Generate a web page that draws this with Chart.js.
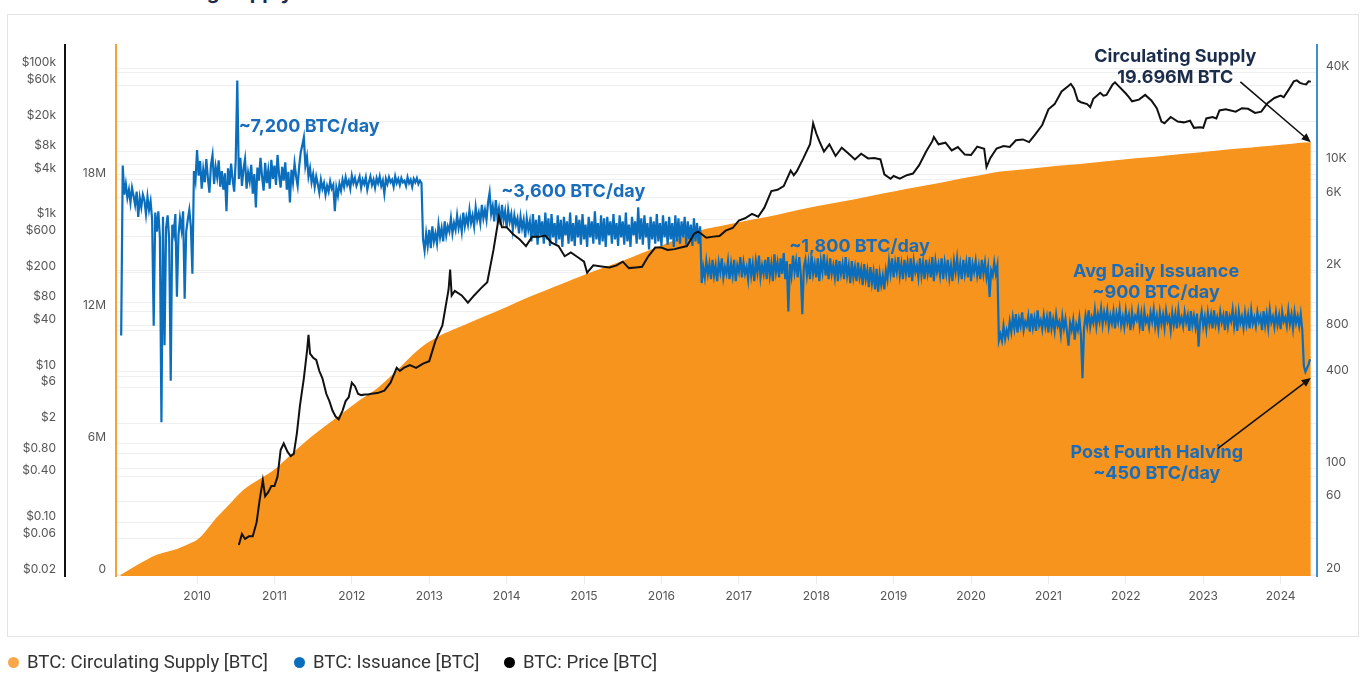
<!DOCTYPE html>
<html>
<head>
<meta charset="utf-8">
<script src="https://cdn.jsdelivr.net/npm/chart.js@4.4.1/dist/chart.umd.min.js"></script>
<style>
  body { margin: 0; background: #fff; width: 1364px; height: 682px; overflow: hidden; position: relative; }
  #frame { position: absolute; left: 7px; top: 14px; width: 1350px; height: 621px; border: 1px solid #e4e4e4; }
  #chart { position: absolute; left: 0; top: 0; }
  #title { position: absolute; left: 40px; top: -18px; font: 700 20px/20px Inter, sans-serif; color: #1c2b4b; white-space: nowrap; }
  .item { position: absolute; top: 651px; height: 22px; display: flex; align-items: center; font: 18.6px/22px Roboto, sans-serif; color: #333; white-space: nowrap; }
  .dot { width: 11px; height: 11px; border-radius: 50%; margin-right: 8px; }
</style>
</head>
<body>
<div id="title">Bitcoin Circulating Supply</div>
<div id="frame"></div>
<canvas id="chart" width="1364" height="682"></canvas>
<div class="item" style="left:8px"><span class="dot" style="background:#f8a84a"></span>BTC: Circulating Supply [BTC]</div>
<div class="item" style="left:294px"><span class="dot" style="background:#0a6ebd"></span>BTC: Issuance [BTC]</div>
<div class="item" style="left:504px"><span class="dot" style="background:#000"></span>BTC: Price [BTC]</div>
<script>
// ---- data (decimal years) ----
const yearTicks = [2010, 2011, 2012, 2013, 2014, 2015, 2016, 2017, 2018, 2019, 2020, 2021, 2022, 2023, 2024];

const priceTicks = [0.02, 0.06, 0.1, 0.4, 0.8, 2, 6, 10, 40, 80, 200, 600, 1000, 4000, 8000, 20000, 60000, 100000];
const priceTickLabels = ['$0.02', '$0.06', '$0.10', '$0.40', '$0.80', '$2', '$6', '$10', '$40', '$80', '$200', '$600', '$1k', '$4k', '$8k', '$20k', '$60k', '$100k'];

const supplyTicks = [0, 6e6, 12e6, 18e6];
const supplyTickLabels = ['0', '6M', '12M', '18M'];

const issuanceTicks = [20, 60, 100, 400, 800, 2000, 6000, 10000, 40000];
const issuanceTickLabels = ['20', '60', '100', '400', '800', '2K', '6K', '10K', '40K'];

// circulating supply, millions of BTC
const supplyYears = [2009.01, 2009.15, 2009.3, 2009.45, 2009.6, 2009.75, 2009.9, 2010.0, 2010.1, 2010.25,
  2010.4, 2010.59, 2010.8, 2011.0, 2011.25, 2011.46, 2011.7, 2011.89, 2012.1, 2012.33,
  2012.55, 2012.75, 2012.91, 2013.14, 2013.4, 2013.7, 2014.0, 2014.25, 2014.5, 2014.75,
  2015.0, 2015.25, 2015.5, 2015.75, 2016.0, 2016.25, 2016.52, 2016.75, 2017.0, 2017.25,
  2017.5, 2017.75, 2018.0, 2018.25, 2018.5, 2018.75, 2019.0, 2019.25, 2019.5, 2019.75,
  2020.0, 2020.2, 2020.36, 2020.7, 2021.0, 2021.25, 2021.5, 2021.75, 2022.0, 2022.25,
  2022.5, 2022.75, 2023.0, 2023.25, 2023.5, 2023.75, 2024.0, 2024.15, 2024.3, 2024.39];
const supplyValues = [0, 0.3, 0.6, 0.88, 1.05, 1.2, 1.42, 1.6, 1.95, 2.6,
  3.15, 3.85, 4.35, 4.8, 5.6, 6.25, 6.9, 7.4, 7.95, 8.5,
  9.2, 9.9, 10.4, 10.9, 11.3, 11.75, 12.2, 12.6, 12.95, 13.3,
  13.65, 13.98, 14.3, 14.65, 15.0, 15.35, 15.7, 15.87, 16.05, 16.22,
  16.4, 16.6, 16.78, 16.94, 17.1, 17.28, 17.45, 17.62, 17.78, 17.95,
  18.12, 18.25, 18.35, 18.47, 18.58, 18.66, 18.74, 18.83, 18.92, 19.0,
  19.08, 19.17, 19.25, 19.34, 19.42, 19.5, 19.58, 19.63, 19.68, 19.696];

// price, USD
const priceYears = [2010.54, 2010.58, 2010.62, 2010.67, 2010.72, 2010.77, 2010.81, 2010.85, 2010.88, 2010.92, 2010.96,
  2011.0, 2011.04, 2011.08, 2011.12, 2011.17, 2011.21, 2011.25, 2011.29, 2011.33, 2011.38, 2011.42, 2011.44, 2011.46,
  2011.5, 2011.54, 2011.58, 2011.62, 2011.67, 2011.71, 2011.75, 2011.79, 2011.83, 2011.88, 2011.92, 2011.96,
  2012.0, 2012.04, 2012.08, 2012.12, 2012.17, 2012.21, 2012.25, 2012.33, 2012.42, 2012.5, 2012.58, 2012.62, 2012.67,
  2012.75, 2012.83, 2012.92, 2013.0, 2013.08, 2013.17, 2013.25, 2013.27, 2013.29, 2013.33, 2013.42, 2013.5, 2013.58,
  2013.67, 2013.75, 2013.83, 2013.9, 2013.94, 2014.0, 2014.08, 2014.17, 2014.25, 2014.33, 2014.42, 2014.5, 2014.58,
  2014.67, 2014.75, 2014.83, 2014.92, 2015.0, 2015.04, 2015.12, 2015.25, 2015.33, 2015.42, 2015.5, 2015.58, 2015.67,
  2015.75, 2015.83, 2015.92, 2016.0, 2016.08, 2016.17, 2016.25, 2016.33, 2016.42, 2016.47, 2016.5, 2016.58, 2016.67,
  2016.75, 2016.83, 2016.92, 2017.0, 2017.08, 2017.17, 2017.25, 2017.33, 2017.42, 2017.5, 2017.58, 2017.67, 2017.71,
  2017.75, 2017.83, 2017.92, 2017.96, 2018.0, 2018.04, 2018.1, 2018.17, 2018.25, 2018.33, 2018.42, 2018.5, 2018.58,
  2018.67, 2018.75, 2018.83, 2018.88, 2018.96, 2019.0, 2019.08, 2019.17, 2019.25, 2019.33, 2019.42, 2019.5, 2019.52,
  2019.58, 2019.67, 2019.75, 2019.83, 2019.92, 2020.0, 2020.08, 2020.17, 2020.2, 2020.25, 2020.33, 2020.42, 2020.5,
  2020.58, 2020.67, 2020.75, 2020.83, 2020.92, 2021.0, 2021.08, 2021.17, 2021.25, 2021.29, 2021.33, 2021.38, 2021.42,
  2021.5, 2021.54, 2021.58, 2021.67, 2021.71, 2021.75, 2021.83, 2021.86, 2021.92, 2022.0, 2022.04, 2022.08, 2022.17,
  2022.25, 2022.33, 2022.4, 2022.46, 2022.5, 2022.58, 2022.67, 2022.75, 2022.83, 2022.88, 2022.96, 2023.0, 2023.04,
  2023.12, 2023.17, 2023.21, 2023.29, 2023.33, 2023.42, 2023.5, 2023.58, 2023.67, 2023.75, 2023.83, 2023.92, 2024.0,
  2024.04, 2024.1, 2024.17, 2024.21, 2024.25, 2024.29, 2024.33, 2024.36, 2024.39];
const priceValues = [0.05, 0.07, 0.06, 0.065, 0.065, 0.1, 0.2, 0.36, 0.22, 0.25, 0.3,
  0.3, 0.4, 0.9, 1.1, 0.85, 0.75, 0.8, 1.5, 3.5, 8, 18, 30, 17,
  15, 14, 10, 8, 5, 4, 3, 2.5, 2.3, 3, 4, 4.5,
  7, 6.3, 5, 4.8, 4.9, 4.9, 5, 5.1, 5.5, 7, 11, 10, 11,
  12, 11, 12.5, 13.5, 25, 40, 120, 220, 100, 115, 100, 80, 100,
  125, 150, 400, 1100, 800, 800, 650, 550, 450, 600, 600, 620, 500,
  450, 330, 370, 320, 280, 200, 250, 240, 235, 250, 280, 230, 235,
  240, 330, 430, 430, 400, 410, 430, 450, 650, 700, 670, 580, 600,
  610, 720, 780, 980, 1050, 1200, 1100, 1450, 2400, 2500, 2800, 4500, 3900,
  4400, 6400, 10000, 19000, 14000, 11000, 8000, 10000, 7000, 9000, 7500, 6300, 7500,
  6500, 6600, 6300, 4000, 3500, 3800, 3500, 3900, 4100, 5300, 8000, 11000, 12500,
  10000, 10500, 8300, 9200, 7300, 7200, 9300, 8700, 5000, 6600, 8800, 9500, 9200,
  11300, 11600, 10700, 13500, 18000, 29000, 34000, 50000, 58000, 63000, 55000, 38000, 36000,
  34000, 31000, 40000, 48000, 44000, 45000, 62000, 66000, 57000, 47000, 42000, 37000, 39000,
  45000, 38000, 30000, 20000, 19000, 23000, 20000, 19500, 20500, 16500, 16800, 16500, 22000,
  23000, 22000, 28000, 29000, 28500, 27000, 30000, 29500, 26000, 27000, 35000, 41000, 44000,
  42000, 52000, 68000, 70000, 65000, 63000, 62000, 68000, 67000];

// issuance, BTC per day, one reading every 0.02 years from 2009.02
const issuanceStart = 2009.02;
const issuanceStep = 0.02;
const issuanceValues = [
  745, 9800, 6300, 7400, 6000, 6800, 5600, 7000, 6200, 5400,
  6600, 4500, 6000, 5200, 6300, 5800, 4700, 6100, 5000, 5700,
  4300, 864, 4800, 3600, 4900, 3300, 200, 4500, 644, 3800,
  4600, 3200, 375, 4000, 3500, 4700, 1340, 3400, 4400, 3700,
  4900, 1300, 3600, 4300, 5000, 3900, 1900, 9000,
  7800, 12400, 8400, 10500, 6900, 9200, 7600, 10800, 8100, 6500,
  9900, 11500, 7400, 9600, 8200, 10600, 7100, 9000, 6800, 8700,
  4900, 9400, 7300, 10100, 7900, 6600, 10700, 35500, 8000, 11000,
  7200, 9300, 10800, 6900, 8800, 7700, 9900, 6400, 8600, 5200,
  9500, 7800, 11000, 8300, 6700, 10200, 7500, 9100, 6900, 10700,
  8000, 9800, 7300, 11500, 8500, 7000, 9600, 7800, 10300, 6800,
  8900, 5600, 9200, 7600, 10100, 8300, 7200, 9700, 12000, 13300,
  15000, 9800, 11200, 8300, 9400,
  7600, 8600, 7100, 8300, 7400, 6500, 7900, 6900, 7500, 6300,
  7200, 6600, 7700, 6900, 7300, 4900, 7000, 6200, 7400, 6700,
  7900, 7100, 8200, 7300, 7800, 6900, 8400, 7500, 8100, 7200,
  7700, 8300, 7000, 7900, 7400, 8200, 6800, 7600, 8300, 7300,
  7900, 7000, 8100, 7500, 8300, 7200, 7800, 6400, 8000, 7400,
  8200, 7600, 7900, 7100, 8300, 7500, 8000, 7300, 8100, 7600,
  7800, 7200, 8200, 7500, 7900, 7100, 8000, 7600, 8100, 7400,
  7800, 7500,
  3200, 2700, 3500, 2900, 3700, 2800, 3900, 3100, 3500, 3000,
  4000, 3300, 3800, 3100, 4200, 3400, 3900, 3600, 4400, 3500,
  4100, 3700, 4600, 3800, 4300, 3600, 4800, 3900, 4500, 4000,
  5000, 4100, 4600, 3900, 5200, 4300, 4800, 4100, 5400, 4400,
  5000, 4300, 5600, 6500, 4700, 5300, 4200, 5800, 4500, 5100,
  4000, 5400, 4300, 4900, 3800, 5000, 4200, 4700, 3700, 4600,
  4000, 4400, 3500, 4500, 3800, 4300, 3300, 4400, 3700, 4200,
  3100, 4700, 3300, 4300, 2950, 4600, 3400, 4200, 3000, 4800,
  3200, 4400, 2900, 4700, 3300, 4100, 3000, 4600, 3200, 4300,
  2850, 4500, 3400, 4200, 3000, 4800, 3100, 4100, 2900, 4600,
  3300, 4300, 2950, 4700, 3200, 4000, 2850, 4500, 3300, 4200,
  3000, 4900, 3200, 4100, 2950, 4600, 3100, 4400, 2850, 4500,
  3400, 4200, 3000, 4700, 3200, 4100, 2900, 4600, 3300, 4200,
  2950, 4800, 3100, 4000, 2850, 4500, 3400, 4200, 3000, 5200,
  3200, 4400, 2950, 4600, 3300, 4100, 2750, 4500, 3200, 4200,
  3000, 4700, 3100, 4100, 2900, 4600, 3300, 4200, 2950, 4500,
  3200, 4100, 2850, 4600, 3100, 4400, 3000, 4200, 3300, 4500,
  2950, 4200, 3200, 4000, 2900, 4400, 3100, 4100, 3000, 3900,
  1650, 2100, 1800, 2300, 1900, 2200, 1750, 2350, 1850, 2150,
  1700, 2250, 1950, 2400, 1800, 2100, 1900, 2300, 1750, 2200,
  1850, 2350, 1700, 2150, 1950, 2450, 1800, 2250, 1900, 2100,
  1750, 2400, 1850, 2200, 1700, 2300, 1950, 2500, 1800, 2150,
  1900, 2350, 1750, 2450, 1850, 2200, 1700, 2550, 1950, 2250,
  1800, 2400, 1900, 2600, 1750, 2300, 1075, 2200, 1850, 2500,
  1950, 2300, 1800, 2450, 1900, 1030, 2100, 2350, 1850, 2250,
  1750, 2500, 1900, 2200, 1800, 2400, 1700, 2300, 1950, 2550,
  1850, 2250, 1750, 2400, 1900, 2150, 1800, 2350, 1700, 2300,
  1900, 2200, 1750, 2450, 1850, 2150, 1650, 2300, 1800, 2100,
  1700, 2250, 1800, 2050, 1600, 2200, 1750, 2000, 1550, 2100,
  1650, 1950, 1500, 2050, 1450, 1900, 1600, 1850, 1500, 2000,
  1750, 2300, 1900, 2400, 1800, 2250, 1950, 2450, 1850, 2200,
  1750, 2350, 1900, 2250, 1800, 2400, 1700, 2300, 1950, 2150,
  1800, 2400, 1850, 2250, 1750, 2350, 1900, 2200, 1800, 2450,
  1700, 2300, 1950, 2200, 1850, 2400, 1750, 2250, 1900, 2350,
  1800, 2150, 1700, 2300, 1950, 2400, 1850, 2200, 1750, 2350,
  1900, 2250, 1800, 2450, 1700, 2200, 1950, 2300, 1850, 2150,
  1750, 2350, 1900, 2250, 1800, 2100, 1340, 2000, 1850, 2250,
  1900, 2150,
  693, 760, 690, 860, 710, 810, 740, 920, 790, 980,
  830, 1030, 780, 960, 860, 1060, 810, 920, 860, 1000,
  790, 1040, 840, 970, 800, 1090, 870, 940, 820, 1010,
  850, 980, 780, 1070, 830, 950, 800, 1020, 860, 920,
  760, 990, 830, 960, 790, 640, 900, 810, 940, 700,
  880, 810, 970, 750, 390, 830, 1010, 870, 1090, 850,
  980, 900, 1100, 860, 1030, 920, 1120, 880, 1060, 930,
  1090, 860, 1010, 900, 1070, 830, 1040, 920, 1110, 870,
  990, 850, 1080, 910, 1020, 810, 1060, 880, 1000, 940,
  1090, 860, 1030, 800, 1070, 910, 980, 850, 1050, 920,
  1100, 860, 1000, 820, 1060, 890, 1020, 840, 1080, 920,
  990, 810, 1050, 880, 1030, 830, 1090, 900, 980, 860,
  1060, 910, 1010, 800, 1080, 870, 1000, 850, 1040, 630,
  930, 1070, 860, 990, 820, 1050, 890, 1020, 830, 1090,
  880, 980, 850, 1060, 910, 1010, 810, 1080, 860, 1000,
  920, 1100, 860, 1030, 800, 1070, 900, 990, 840, 1050,
  880, 1020, 830, 1090, 890, 980, 860, 1060, 920, 1000,
  810, 1080, 870, 1030, 840, 1100, 910, 990, 850, 1050,
  880, 1010, 820, 1070, 920, 980, 860, 1090, 890, 1020,
  830, 1060, 900, 1000, 860, 1030, 810,
  470, 430, 455, 480, 520];

// text notes, placed in data units of the axis named
const blueText = '#1a6dbb';
const navyText = '#1c2d4c';
const notes = [
  { text: '~7,200 BTC/day', year: 2010.54, value: 17600, axis: 'yIssuance', align: 'left', color: blueText },
  { text: '~3,600 BTC/day', year: 2013.93, value: 6560, axis: 'yIssuance', align: 'left', color: blueText },
  { text: '~1,800 BTC/day', year: 2017.65, value: 2890, axis: 'yIssuance', align: 'left', color: blueText },
  { text: 'Avg Daily Issuance', year: 2022.39, value: 1950, axis: 'yIssuance', align: 'center', color: blueText },
  { text: '~900 BTC/day', year: 2022.39, value: 1420, axis: 'yIssuance', align: 'center', color: blueText },
  { text: 'Circulating Supply', year: 2022.64, value: 23.58e6, axis: 'ySupply', align: 'center', color: navyText },
  { text: '19.696M BTC', year: 2022.64, value: 22.62e6, axis: 'ySupply', align: 'center', color: navyText },
  { text: 'Post Fourth Halving', year: 2022.4, value: 125.6, axis: 'yIssuance', align: 'center', color: blueText },
  { text: '~450 BTC/day', year: 2022.4, value: 91.5, axis: 'yIssuance', align: 'center', color: blueText }
];
const arrows = [
  { from: [2023.48, 22.44e6], to: [2024.39, 19.696e6], axis: 'ySupply' },
  { from: [2023.19, 135], to: [2024.39, 392], axis: 'yIssuance' }
];

function toPoints(xs, ys, scale) {
  return xs.map((x, i) => ({ x: x, y: ys[i] * scale }));
}

let issuancePoints = issuanceValues.map((v, i) => ({ x: issuanceStart + i * issuanceStep, y: v }));

function drawArrow(c, x1, y1, x2, y2) {
  const a = Math.atan2(y2 - y1, x2 - x1);
  const head = 10;
  c.beginPath();
  c.moveTo(x1, y1);
  c.lineTo(x2 - Math.cos(a) * head * 0.8, y2 - Math.sin(a) * head * 0.8);
  c.stroke();
  c.beginPath();
  c.moveTo(x2, y2);
  c.lineTo(x2 - head * Math.cos(a - 0.42), y2 - head * Math.sin(a - 0.42));
  c.lineTo(x2 - head * Math.cos(a + 0.42), y2 - head * Math.sin(a + 0.42));
  c.closePath();
  c.fill();
}

const notesPlugin = {
  id: 'notes',
  afterDatasetsDraw(chart) {
    const c = chart.ctx;
    const xs = chart.scales.x;
    c.save();
    c.font = '700 18px Inter, sans-serif';
    c.textBaseline = 'middle';
    for (let n of notes) {
      c.fillStyle = n.color;
      c.textAlign = n.align;
      c.fillText(n.text, xs.getPixelForValue(n.year), chart.scales[n.axis].getPixelForValue(n.value));
    }
    c.strokeStyle = '#111';
    c.fillStyle = '#111';
    c.lineWidth = 1.6;
    for (let a of arrows) {
      const ys = chart.scales[a.axis];
      drawArrow(c, xs.getPixelForValue(a.from[0]), ys.getPixelForValue(a.from[1]),
        xs.getPixelForValue(a.to[0]), ys.getPixelForValue(a.to[1]));
    }
    c.restore();
  }
};

function fixedTicks(list) {
  return function (axis) {
    axis.ticks = list.map(v => ({ value: v }));
  };
}

Chart.defaults.font.family = 'Inter, sans-serif';
Chart.defaults.font.size = 12;
Chart.defaults.color = '#555';

const gridColor = '#efefef';

const chart = new Chart(document.getElementById('chart'), {
  type: 'line',
  data: {
    datasets: [
      {
        label: 'BTC: Circulating Supply [BTC]',
        data: toPoints(supplyYears, supplyValues, 1e6),
        yAxisID: 'ySupply',
        borderWidth: 0,
        borderColor: '#f6941e',
        backgroundColor: '#f6941e',
        fill: 'start',
        cubicInterpolationMode: 'monotone',
        pointRadius: 0,
        order: 3
      },
      {
        label: 'BTC: Issuance [BTC]',
        data: issuancePoints,
        yAxisID: 'yIssuance',
        borderColor: '#0a6ebd',
        borderWidth: 2.2,
        pointRadius: 0,
        fill: false,
        order: 2
      },
      {
        label: 'BTC: Price [BTC]',
        data: toPoints(priceYears, priceValues, 1),
        yAxisID: 'yPrice',
        borderColor: '#111',
        borderWidth: 2,
        pointRadius: 0,
        fill: false,
        order: 1
      }
    ]
  },
  options: {
    responsive: false,
    animation: false,
    layout: { padding: { left: 8, right: 6, top: 45, bottom: 46 } },
    plugins: { legend: { display: false }, tooltip: { enabled: false } },
    scales: {
      x: {
        type: 'linear',
        min: 2008.953,
        max: 2024.47,
        afterBuildTicks: fixedTicks(yearTicks),
        afterFit: (s) => { s.height = 60; },
        ticks: { padding: 5, autoSkip: false, maxRotation: 0, callback: (v) => String(v) },
        grid: { drawOnChartArea: false, tickLength: 8, color: '#ececec' },
        border: { display: false }
      },
      yPrice: {
        type: 'logarithmic',
        position: 'left',
        weight: 2,
        min: 0.0194,
        max: 205900,
        afterBuildTicks: fixedTicks(priceTicks),
        afterFit: (s) => { s.width = 57; },
        ticks: { padding: 9, labelOffset: -6, autoSkip: false, callback: (v, i) => priceTickLabels[i] },
        grid: { color: gridColor, drawTicks: false },
        border: { display: true, color: '#111', width: 2 }
      },
      ySupply: {
        type: 'linear',
        position: 'left',
        weight: 1,
        min: -0.0455e6,
        max: 24.12e6,
        afterBuildTicks: fixedTicks(supplyTicks),
        afterFit: (s) => { s.width = 51; },
        ticks: { padding: 10, labelOffset: -6, autoSkip: false, callback: (v, i) => supplyTickLabels[i] },
        grid: { color: gridColor, drawTicks: false },
        border: { display: true, color: '#f7a035', width: 2 }
      },
      yIssuance: {
        type: 'logarithmic',
        position: 'right',
        min: 19.49,
        max: 60860,
        afterBuildTicks: fixedTicks(issuanceTicks),
        afterFit: (s) => { s.width = 41; },
        ticks: { padding: 9, labelOffset: -6, autoSkip: false, callback: (v, i) => issuanceTickLabels[i] },
        grid: { color: gridColor, drawTicks: false },
        border: { display: true, color: '#3d8fd4', width: 2 }
      }
    }
  },
  plugins: [notesPlugin]
});
</script>
</body>
</html>
